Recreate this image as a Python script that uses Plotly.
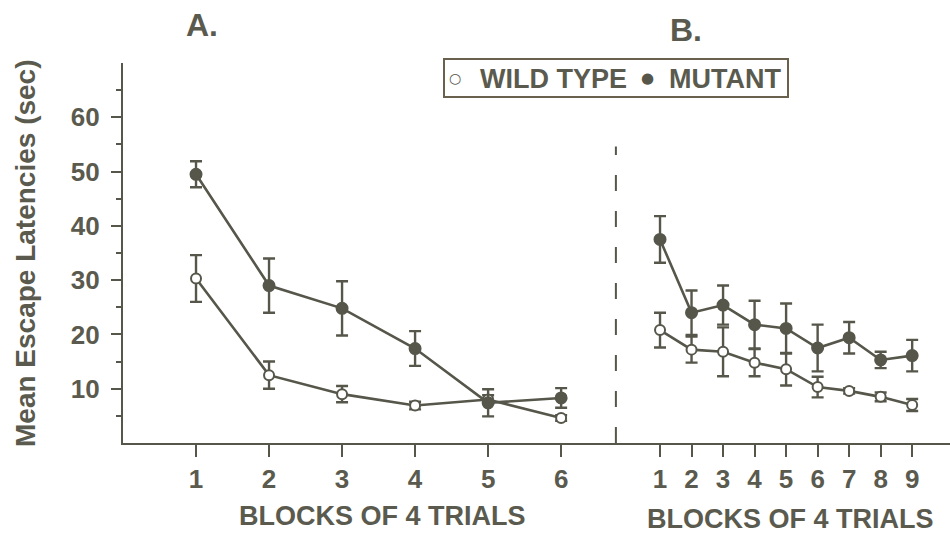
import plotly.graph_objects as go

# Experiment A: blocks 1-6
a_blocks = [1, 2, 3, 4, 5, 6]
a_wild = [30.3, 12.5, 9.0, 6.9, 8.0, 4.6]
a_wild_err = [4.3, 2.5, 1.5, 0.7, 0.8, 0.5]
a_mut = [49.5, 29.0, 24.8, 17.4, 7.4, 8.3]
a_mut_err = [2.4, 5.0, 5.0, 3.2, 2.5, 1.8]

# Experiment B: blocks 1-9
b_blocks = [1, 2, 3, 4, 5, 6, 7, 8, 9]
b_wild = [20.8, 17.2, 16.8, 14.8, 13.6, 10.3, 9.6, 8.5, 7.0]
b_wild_err = [3.2, 2.4, 4.5, 2.5, 3.0, 1.9, 0.5, 0.8, 1.1]
b_mut = [37.5, 24.0, 25.4, 21.8, 21.1, 17.5, 19.4, 15.3, 16.1]
b_mut_err = [4.3, 4.1, 3.6, 4.4, 4.6, 4.3, 2.9, 1.5, 2.9]

y_ticks = [10, 20, 30, 40, 50, 60]

INK = "#56564a"
TEXT = "#5a5a4e"
FONT = "Liberation Sans"
SPLIT = 0.596

fig = go.Figure()


def add_series(x, y, err, xaxis, filled):
    fig.add_trace(go.Scatter(
        x=x, y=y, xaxis=xaxis, yaxis="y",
        mode="lines+markers",
        line=dict(color=INK, width=2.6),
        marker=dict(
            symbol="circle",
            size=11 if filled else 10,
            color=INK if filled else "white",
            line=dict(color=INK, width=2),
        ),
        error_y=dict(type="data", array=err, symmetric=True,
                     color=INK, thickness=2.4, width=6),
        showlegend=False,
    ))


add_series(a_blocks, a_wild, a_wild_err, "x", False)
add_series(a_blocks, a_mut, a_mut_err, "x", True)
add_series(b_blocks, b_wild, b_wild_err, "x2", False)
add_series(b_blocks, b_mut, b_mut_err, "x2", True)

tickfont = dict(family=FONT, size=26, color=TEXT, weight="bold")

common_x = dict(
    showline=True, linecolor=INK, linewidth=2.2,
    ticks="outside", ticklen=12, tickwidth=2, tickcolor=INK,
    tickfont=tickfont, showgrid=False, zeroline=False,
    anchor="y", fixedrange=True,
)

fig.update_layout(
    width=950, height=535,
    margin=dict(l=123, r=0, t=63, b=92),
    paper_bgcolor="white", plot_bgcolor="white",
    xaxis=dict(domain=[0, SPLIT], range=[0, 6.75],
               tickvals=a_blocks, **common_x),
    xaxis2=dict(domain=[SPLIT, 1], range=[-0.4, 10.2],
                tickvals=b_blocks, **common_x),
    yaxis=dict(
        range=[0, 70], tickvals=y_ticks,
        showline=True, linecolor=INK, linewidth=2.2,
        ticks="outside", ticklen=10, tickwidth=2, tickcolor=INK,
        minor=dict(tickvals=[5, 15, 25, 35, 45, 55, 65], ticks="outside",
                   ticklen=5, tickwidth=2, tickcolor=INK, showgrid=False),
        tickfont=tickfont, ticklabelstandoff=6,
        showgrid=False, zeroline=False, anchor="x", fixedrange=True,
    ),
    showlegend=False,
)

# Divider between the two experiments
fig.add_shape(type="line", xref="paper", yref="y",
              x0=SPLIT, x1=SPLIT, y0=0, y1=54.6,
              line=dict(color=INK, width=2, dash="16px,20px"))

# Legend box
fig.add_shape(type="rect", xref="paper", yref="paper",
              x0=(444 - 123) / 827, x1=(788 - 123) / 827,
              y0=(443 - 97) / 380, y1=(443 - 59) / 380,
              line=dict(color="#6a604e", width=2))

lab = dict(family=FONT, size=27, color=TEXT, weight="bold")
annotations = [
    dict(text="○", x=(455 - 123) / 827, y=(443 - 78) / 380,
         font=dict(family="DejaVu Sans", size=14, color=INK, weight="bold")),
    dict(text="WILD TYPE", x=(553 - 123) / 827, y=(443 - 79) / 380, font=lab),
    dict(text="●", x=(647 - 123) / 827, y=(443 - 78) / 380,
         font=dict(family="DejaVu Sans", size=15, color=INK)),
    dict(text="MUTANT", x=(725 - 123) / 827, y=(443 - 79) / 380, font=lab),
    dict(text="A.", x=(202 - 123) / 827, y=(443 - 25) / 380,
         font=dict(family=FONT, size=32, color=TEXT, weight="bold")),
    dict(text="B.", x=(686 - 123) / 827, y=(443 - 30) / 380,
         font=dict(family=FONT, size=32, color=TEXT, weight="bold")),
    dict(text="BLOCKS OF 4 TRIALS", x=(382 - 123) / 827, y=(443 - 516) / 380,
         font=lab),
    dict(text="BLOCKS OF 4 TRIALS", x=(790 - 123) / 827, y=(443 - 519) / 380,
         font=lab),
    dict(text="Mean Escape Latencies (sec)", x=(25 - 123) / 827, y=0.5,
         textangle=-90, font=dict(family=FONT, size=28, color=TEXT, weight="bold")),
]
for a in annotations:
    a.update(xref="paper", yref="paper", showarrow=False,
             xanchor="center", yanchor="middle")
    fig.add_annotation(**a)

fig.write_html("out.html")
